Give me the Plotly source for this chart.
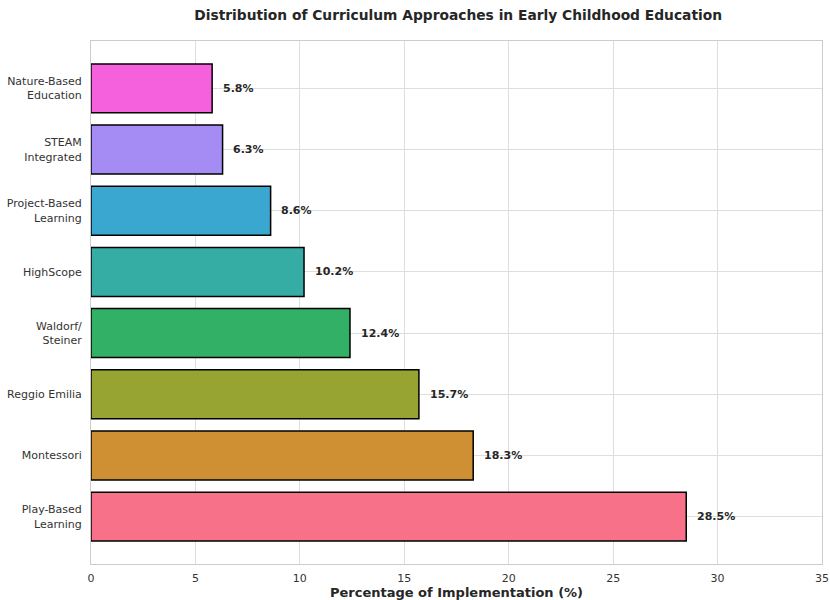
import plotly.graph_objects as go

categories = ["Play-Based<br>Learning", "Montessori", "Reggio Emilia", "Waldorf/<br>Steiner",
              "HighScope", "Project-Based<br>Learning", "STEAM<br>Integrated", "Nature-Based<br>Education"]
values = [28.5, 18.3, 15.7, 12.4, 10.2, 8.6, 6.3, 5.8]
colors = ["#f77189", "#ce9032", "#97a431", "#32b166", "#36ada4", "#39a7d0", "#a48cf4", "#f561dd"]
x_ticks = [0, 5, 10, 15, 20, 25, 30, 35]

font = "DejaVu Sans"
fig = go.Figure()
fig.add_trace(go.Bar(
    y=list(range(len(categories))), x=values, orientation="h", width=0.8,
    marker=dict(color=colors, line=dict(color="black", width=1.5)),
    hoverinfo="skip",
))
for i, v in enumerate(values):
    fig.add_annotation(x=v + 0.42, y=i, text=f"<b>{v}%</b>", showarrow=False,
                       xanchor="left", yanchor="middle",
                       font=dict(family=font, size=11, color="#262626"))

fig.update_layout(
    width=830, height=600,
    margin=dict(l=91, r=8, t=41, b=36),
    plot_bgcolor="white", paper_bgcolor="white",
    showlegend=False,
    title=dict(text="<b>Distribution of Curriculum Approaches in Early Childhood Education</b>",
               x=0.552, xanchor="center", y=0.975, yanchor="middle",
               font=dict(family=font, size=13.8, color="#262626")),
    xaxis=dict(range=[0, 35], tickvals=x_ticks, showgrid=True, gridcolor="#dedede", gridwidth=1,
               showline=True, linecolor="#cccccc", linewidth=1, mirror=True, zeroline=False,
               ticks="", ticklabelstandoff=4, ticklabeloverflow="allow", automargin=False,
               tickfont=dict(family=font, size=11, color="#333333"),
               title=dict(text="<b>Percentage of Implementation (%)</b>", standoff=4,
                          font=dict(family=font, size=13, color="#262626"))),
    yaxis=dict(range=[-0.775, 7.775], tickvals=list(range(len(categories))), ticktext=categories,
               showgrid=True, gridcolor="#dedede", gridwidth=1, automargin=False,
               showline=True, linecolor="#cccccc", linewidth=1, mirror=True, zeroline=False,
               ticks="", ticklabelstandoff=6, tickfont=dict(family=font, size=11, color="#333333")),
)
fig.write_html("out.html")
